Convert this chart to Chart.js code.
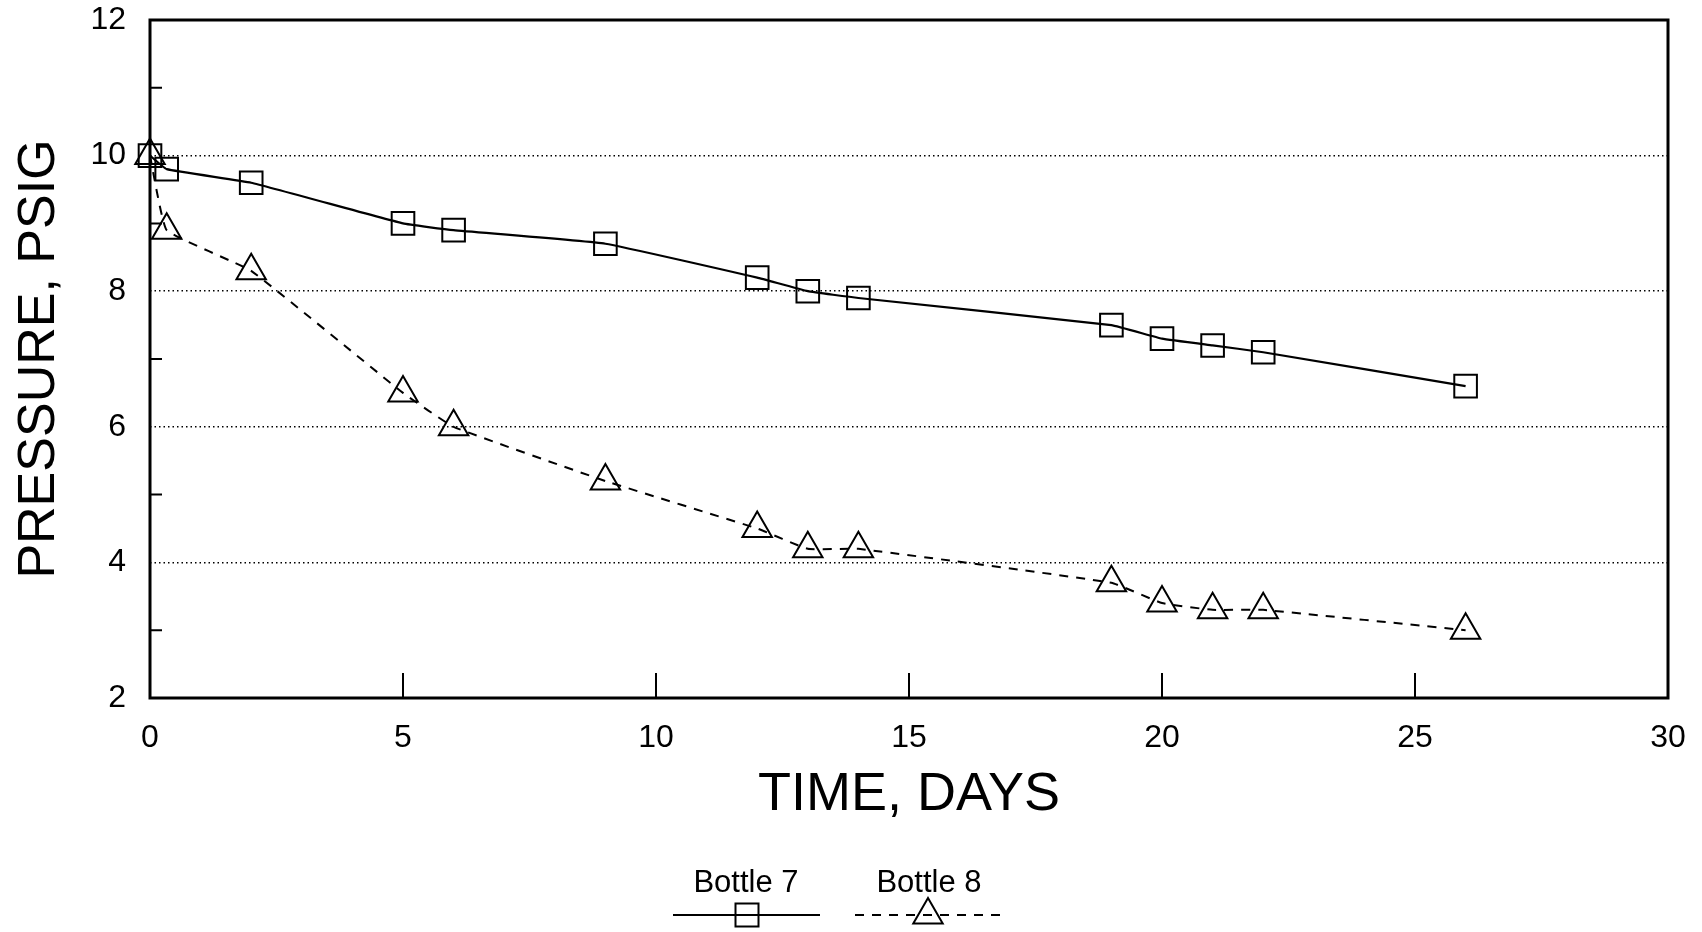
<!DOCTYPE html>
<html>
<head>
<meta charset="utf-8">
<script src="https://cdn.jsdelivr.net/npm/chart.js@4/dist/chart.umd.min.js"></script>
<style>
  body { margin: 0; background: #fff; }
  canvas { display: block; }
</style>
</head>
<body>
<canvas id="myChart" width="1702" height="932"></canvas>
<script>
// days since start
var days7 = [0, 0.33, 2, 5, 6, 9, 12, 13, 14, 19, 20, 21, 22, 26];
var bottle7 = [10.0, 9.8, 9.6, 9.0, 8.9, 8.7, 8.2, 8.0, 7.9, 7.5, 7.3, 7.2, 7.1, 6.6];
var days8 = [0, 0.33, 2, 5, 6, 9, 12, 13, 14, 19, 20, 21, 22, 26];
var bottle8 = [10.0, 8.9, 8.3, 6.5, 6.0, 5.2, 4.5, 4.2, 4.2, 3.7, 3.4, 3.3, 3.3, 3.0];
var xTicks = [0, 5, 10, 15, 20, 25, 30];
var yTicks = [2, 4, 6, 8, 10, 12];
var seriesNames = ['Bottle 7', 'Bottle 8'];

var FONT = '"Liberation Sans", Arial, Helvetica, sans-serif';

function toPoints(xs, ys) {
    return xs.map(function (x, i) { return { x: x, y: ys[i] }; });
}

// frame, inward ticks and the two-row legend under the axis title
var frame = {
    id: 'frame',
    afterDraw: function (chart) {
        var c = chart.ctx, a = chart.chartArea;
        var xs = chart.scales.x, ys = chart.scales.y;
        c.save();
        c.strokeStyle = '#000';
        c.lineWidth = 3;
        c.strokeRect(a.left, a.top, a.right - a.left, a.bottom - a.top);
        c.lineWidth = 2;
        c.beginPath();
        for (var v = 3; v < 12; v += 2) {
            var py = ys.getPixelForValue(v);
            c.moveTo(a.left, py); c.lineTo(a.left + 12, py);
        }
        for (var d = 5; d < 30; d += 5) {
            var px = xs.getPixelForValue(d);
            c.moveTo(px, a.bottom); c.lineTo(px, a.bottom - 25);
        }
        c.stroke();

        // legend
        c.fillStyle = '#000';
        c.font = '31px ' + FONT;
        c.textAlign = 'center';
        c.textBaseline = 'alphabetic';
        c.fillText(seriesNames[0], 746, 892);
        c.fillText(seriesNames[1], 929, 892);

        var ly = 915;
        c.lineWidth = 2;
        c.setLineDash([]);
        c.beginPath();
        c.moveTo(673, ly); c.lineTo(820, ly);
        c.stroke();
        c.strokeRect(747 - 11.5, ly - 11.5, 23, 23);

        c.setLineDash([9, 8]);
        c.beginPath();
        c.moveTo(855, ly); c.lineTo(1005, ly);
        c.stroke();
        c.setLineDash([]);
        var r = 17, tx = 928, ty = ly;
        c.beginPath();
        c.moveTo(tx, ty - r);
        c.lineTo(tx + r * 0.866, ty + r * 0.5);
        c.lineTo(tx - r * 0.866, ty + r * 0.5);
        c.closePath();
        c.stroke();
        c.restore();
    }
};

var ctx = document.getElementById('myChart').getContext('2d');
var chart = new Chart(ctx, {
    type: 'line',
    data: {
        datasets: [{
            label: seriesNames[0],
            data: toPoints(days7, bottle7),
            borderColor: '#000',
            borderWidth: 2.2,
            pointStyle: 'rect',
            pointRadius: 16,
            pointBorderWidth: 2,
            pointBorderColor: '#000',
            pointBackgroundColor: 'rgba(0,0,0,0)',
            tension: 0.1,
            clip: false
        }, {
            label: seriesNames[1],
            data: toPoints(days8, bottle8),
            borderColor: '#000',
            borderWidth: 2,
            borderDash: [9, 8],
            pointStyle: 'triangle',
            pointRadius: 17,
            pointBorderWidth: 2,
            pointBorderColor: '#000',
            pointBackgroundColor: 'rgba(0,0,0,0)',
            tension: 0.1,
            clip: false
        }]
    },
    options: {
        responsive: false,
        animation: false,
        layout: { padding: { top: 20, right: 34, bottom: 104, left: 0 } },
        plugins: {
            legend: { display: false },
            tooltip: { enabled: false }
        },
        scales: {
            x: {
                type: 'linear',
                min: xTicks[0],
                max: xTicks[xTicks.length - 1],
                afterBuildTicks: function (s) { s.ticks = xTicks.map(function (v) { return { value: v }; }); },
                grid: { display: false },
                border: { display: false },
                ticks: { color: '#000', font: { family: FONT, size: 32 }, padding: 13, maxRotation: 0 },
                title: {
                    display: true,
                    text: 'TIME, DAYS',
                    color: '#000',
                    font: { family: FONT, size: 54 },
                    padding: { top: 0, bottom: 0 }
                },
                afterFit: function (s) { s.height = 130; s.paddingLeft = 0; s.paddingRight = 0; }
            },
            y: {
                min: 2,
                max: 12,
                ticks: {
                    stepSize: 1,
                    color: '#000',
                    font: { family: FONT, size: 32 },
                    padding: 24,
                    callback: function (v) { return yTicks.indexOf(v) >= 0 ? v : ''; }
                },
                grid: {
                    drawTicks: false,
                    lineWidth: 1.5,
                    color: function (c) {
                        var v = c.tick && c.tick.value;
                        return (v > 2 && v < 12 && v % 2 === 0) ? '#000' : 'rgba(0,0,0,0)';
                    }
                },
                border: { display: false, dash: [1.5, 3] },
                title: {
                    display: true,
                    text: 'PRESSURE, PSIG',
                    color: '#000',
                    font: { family: FONT, size: 52 },
                    padding: { top: 8, bottom: 0 }
                },
                afterFit: function (s) { s.width = 150; s.paddingTop = 0; s.paddingBottom = 0; }
            }
        }
    },
    plugins: [frame]
});
</script>
</body>
</html>
